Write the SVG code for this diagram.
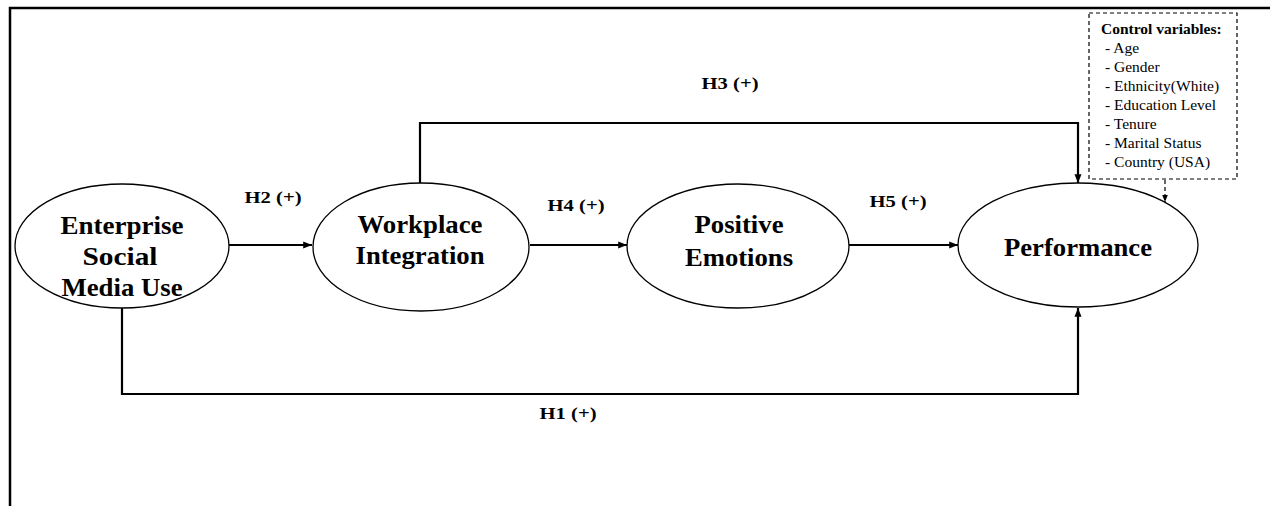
<svg xmlns="http://www.w3.org/2000/svg" width="1270" height="506" viewBox="0 0 1270 506">
<style>
.node{fill:#fff;stroke:#000;stroke-width:1.3}
.nt{font-family:"Liberation Serif",serif;font-weight:bold;font-size:26px;text-anchor:middle;fill:#000}
.el{font-family:"Liberation Serif",serif;font-weight:bold;font-size:17px;fill:#000;text-anchor:middle}
.conn{fill:none;stroke:#000;stroke-width:2.2}
.cv{font-family:"Liberation Serif",serif;font-size:15.5px;fill:#000}
</style>
<defs>
<marker id="ah" viewBox="0 0 10 10" refX="10" refY="5" markerWidth="4" markerHeight="4" orient="auto" markerUnits="strokeWidth">
<path d="M0,1 L10,5 L0,9 z" fill="#000"/>
</marker>
<marker id="ahs" viewBox="0 0 10 10" refX="10" refY="5" markerWidth="6" markerHeight="6" orient="auto" markerUnits="strokeWidth">
<path d="M0,1 L10,5 L0,9 z" fill="#000"/>
</marker>
</defs>
<rect width="1270" height="506" fill="#fff"/>
<path d="M10,506 V8 H1270" fill="none" stroke="#000" stroke-width="2.5"/>
<g id="connectors">
<path class="conn" d="M229,245 H312" marker-end="url(#ah)"/>
<path class="conn" d="M530,245 H627" marker-end="url(#ah)"/>
<path class="conn" d="M849,245 H958" marker-end="url(#ah)"/>
<path class="conn" d="M420,183 V123 H1078 V183" marker-end="url(#ah)"/>
<path class="conn" d="M122,308 V394 H1078 V308" marker-end="url(#ah)"/>
<path d="M1165,180 V202" fill="none" stroke="#000" stroke-width="1.2" stroke-dasharray="4,3" marker-end="url(#ahs)"/>
<text class="el" x="273" y="203" textLength="57" lengthAdjust="spacingAndGlyphs">H2 (+)</text>
<text class="el" x="576" y="211" textLength="57" lengthAdjust="spacingAndGlyphs">H4 (+)</text>
<text class="el" x="898" y="207" textLength="57" lengthAdjust="spacingAndGlyphs">H5 (+)</text>
<text class="el" x="730" y="89" textLength="57" lengthAdjust="spacingAndGlyphs">H3 (+)</text>
<text class="el" x="568" y="419" textLength="57" lengthAdjust="spacingAndGlyphs">H1 (+)</text>
</g>
<g id="esmu">
<ellipse class="node" cx="122" cy="246" rx="107" ry="62"/>
<text class="nt" x="122" y="234" textLength="123" lengthAdjust="spacingAndGlyphs">Enterprise</text>
<text class="nt" x="120" y="265" textLength="75" lengthAdjust="spacingAndGlyphs">Social</text>
<text class="nt" x="122" y="296" textLength="121" lengthAdjust="spacingAndGlyphs">Media Use</text>
</g>
<g id="wi">
<ellipse class="node" cx="421" cy="247" rx="108" ry="64"/>
<text class="nt" x="420" y="233" textLength="125" lengthAdjust="spacingAndGlyphs">Workplace</text>
<text class="nt" x="420" y="264" textLength="129" lengthAdjust="spacingAndGlyphs">Integration</text>
</g>
<g id="pe">
<ellipse class="node" cx="738" cy="246" rx="111" ry="62"/>
<text class="nt" x="739" y="233" textLength="89" lengthAdjust="spacingAndGlyphs">Positive</text>
<text class="nt" x="739" y="266" textLength="108" lengthAdjust="spacingAndGlyphs">Emotions</text>
</g>
<g id="perf">
<ellipse class="node" cx="1078" cy="245" rx="120" ry="62"/>
<text class="nt" x="1078" y="256" textLength="148" lengthAdjust="spacingAndGlyphs">Performance</text>
</g>
<g id="controls">
<rect x="1089" y="13" width="148" height="166" fill="#fff" stroke="#000" stroke-width="1.2" stroke-dasharray="4,3"/>
<text class="cv" x="1101" y="34" font-weight="bold">Control variables:</text>
<text class="cv" x="1105" y="53">- Age</text>
<text class="cv" x="1105" y="72">- Gender</text>
<text class="cv" x="1105" y="91">- Ethnicity(White)</text>
<text class="cv" x="1105" y="110">- Education Level</text>
<text class="cv" x="1105" y="129">- Tenure</text>
<text class="cv" x="1105" y="148">- Marital Status</text>
<text class="cv" x="1105" y="167">- Country (USA)</text>
</g>
</svg>
